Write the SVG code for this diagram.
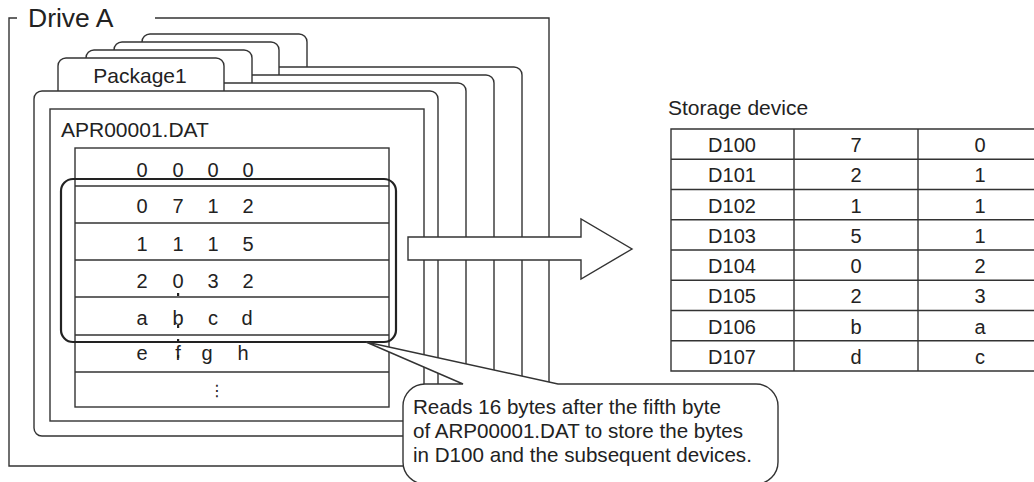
<svg xmlns="http://www.w3.org/2000/svg" width="1034" height="482" viewBox="0 0 1034 482">
<defs>
<style>
.ln{fill:none;stroke:#333;stroke-width:1.4}
.wf{fill:#fff;stroke:#333;stroke-width:1.4}
.hl{fill:none;stroke:#222;stroke-width:2.2}
.t{font-family:"Liberation Sans",Arial,sans-serif;font-size:21px;fill:#222}
.s{font-size:20px}
.c{text-anchor:middle}
.dg{font-family:"Liberation Sans",Arial,sans-serif;font-size:20px;fill:#222;text-anchor:middle}
.dot{fill:#222}
</style>
</defs>
<g id="drive-a">
<path class="ln" d="M17,18 H9 V466 H549 V18 H155"/>
<text class="t" x="28" y="27" style="font-size:26.5px">Drive A</text>
</g>
<g id="folder-4">
<path class="wf" d="M142,67 V42 A8,8 0 0 1 150,34 H299 A8,8 0 0 1 307,42 V67"/>
<rect class="wf" x="118" y="67" width="404" height="321" rx="8"/>
</g>
<g id="folder-3">
<path class="wf" d="M114,75 V50 A8,8 0 0 1 122,42 H271 A8,8 0 0 1 279,50 V75"/>
<rect class="wf" x="90" y="75" width="404" height="337" rx="8"/>
</g>
<g id="folder-2">
<path class="wf" d="M86,83 V58 A8,8 0 0 1 94,50 H244 A8,8 0 0 1 252,58 V83"/>
<rect class="wf" x="62" y="83" width="404" height="345" rx="8"/>
</g>
<g id="package1">
<path class="wf" d="M58,91 V66 A8,8 0 0 1 66,58 H216 A8,8 0 0 1 224,66 V91"/>
<rect class="wf" x="34" y="91" width="404" height="345" rx="8"/>
<text class="t c" x="140" y="83">Package1</text>
</g>
<g id="apr00001-dat">
<rect class="wf" x="50" y="109" width="374" height="312"/>
<text class="t" x="61" y="137">APR00001.DAT</text>
</g>
<g id="data-table">
<rect class="wf" x="75" y="148" width="314" height="259"/>
<path class="ln" d="M75,186 H389 M75,223 H389 M75,260 H389 M75,297 H389 M75,335 H389 M75,372 H389"/>
<text class="dg" x="142" y="177">0</text><text class="dg" x="178" y="177">0</text><text class="dg" x="213" y="177">0</text><text class="dg" x="248" y="177">0</text>
<text class="dg" x="142" y="213">0</text><text class="dg" x="178" y="213">7</text><text class="dg" x="213" y="213">1</text><text class="dg" x="248" y="213">2</text>
<text class="dg" x="142" y="251">1</text><text class="dg" x="178" y="251">1</text><text class="dg" x="213" y="251">1</text><text class="dg" x="248" y="251">5</text>
<text class="dg" x="142" y="288">2</text><text class="dg" x="178" y="288">0</text><text class="dg" x="213" y="288">3</text><text class="dg" x="248" y="288">2</text>
<text class="dg" x="142" y="325">a</text><text class="dg" x="178" y="325">b</text><text class="dg" x="213" y="325">c</text><text class="dg" x="247" y="325">d</text>
<text class="dg" x="142" y="360">e</text><text class="dg" x="178" y="360">f</text><text class="dg" x="207" y="360">g</text><text class="dg" x="243" y="360">h</text>
<text x="217" y="396" style="font-family:'DejaVu Sans',sans-serif;font-size:16px;fill:#222;text-anchor:middle">⋮</text>
<rect class="dot" x="177" y="293" width="2.2" height="3"/>
<rect class="dot" x="177" y="325" width="2.2" height="3"/>
<rect class="dot" x="177" y="339" width="2.2" height="3"/>
<rect class="dot" x="177" y="355" width="2.2" height="3"/>
</g>
<g id="selection">
<rect class="hl" x="61" y="179" width="335" height="163" rx="12"/>
</g>
<g id="connectors">
<path class="wf" d="M408,237 H581 V219 L632,249 L581,279 V260 H408 Z"/>
</g>
<g id="callout">
<path class="wf" d="M463,384 L366,342 L558,384 H756 A22,22 0 0 1 778,406 V462 A22,22 0 0 1 756,484 H425 A22,22 0 0 1 403,462 V406 A22,22 0 0 1 425,384 Z"/>
<text class="t" x="413" y="414" style="font-size:20.6px">Reads 16 bytes after the fifth byte</text>
<text class="t" x="413" y="438" style="font-size:20.6px">of ARP00001.DAT to store the bytes</text>
<text class="t" x="413" y="462" style="font-size:20.6px">in D100 and the subsequent devices.</text>
</g>
<g id="storage-device">
<text class="t" x="668" y="115">Storage device</text>
<path class="ln" d="M1041,129 H671 V371 H1041 M794,129 V371 M918,129 V371 M671,159.3 H1041 M671,189.5 H1041 M671,219.8 H1041 M671,250 H1041 M671,280.3 H1041 M671,310.5 H1041 M671,340.8 H1041"/>
<g class="t s c">
<text x="732" y="152">D100</text><text x="856" y="152">7</text><text x="980" y="152">0</text>
<text x="732" y="182">D101</text><text x="856" y="182">2</text><text x="980" y="182">1</text>
<text x="732" y="213">D102</text><text x="856" y="213">1</text><text x="980" y="213">1</text>
<text x="732" y="243">D103</text><text x="856" y="243">5</text><text x="980" y="243">1</text>
<text x="732" y="273">D104</text><text x="856" y="273">0</text><text x="980" y="273">2</text>
<text x="732" y="303">D105</text><text x="856" y="303">2</text><text x="980" y="303">3</text>
<text x="732" y="334">D106</text><text x="856" y="334">b</text><text x="980" y="334">a</text>
<text x="732" y="364">D107</text><text x="856" y="364">d</text><text x="980" y="364">c</text>
</g>
</g>
</svg>
